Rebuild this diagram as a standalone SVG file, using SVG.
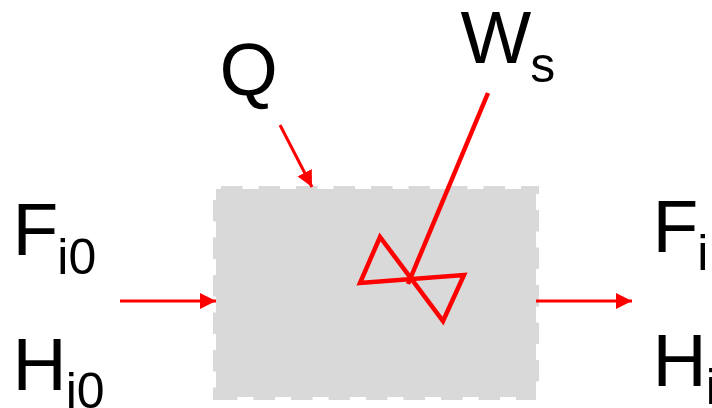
<svg xmlns="http://www.w3.org/2000/svg" width="712" height="408" viewBox="0 0 712 408">
<style>
.lab{font-family:"Liberation Sans",Arial,sans-serif;font-size:75px;fill:#000}
.sub{font-size:50px}
.c{stroke:#f00;stroke-width:3;fill:none}
.v{stroke:#f00;stroke-width:4.5;fill:none}
.d{stroke:#d9d9d9;stroke-width:6;fill:none;stroke-dasharray:21.5 16}
</style>
<defs>
<marker id="a" markerUnits="userSpaceOnUse" markerWidth="16" markerHeight="16" refX="16" refY="8" orient="auto"><path d="M0 0L16 8L0 16Z" fill="#f00"/></marker>
</defs>
<rect width="712" height="408" fill="#fff"/>
<g id="tank">
<rect x="216" y="189" width="320" height="208" fill="#d9d9d9"/>
<path class="d" d="M216 189H539" stroke-dashoffset="32.5"/>
<path class="d" d="M536 189V397" stroke-dashoffset="16.5"/>
<path class="d" d="M216 397H536"/>
<path class="d" d="M216 189V400" stroke-dashoffset="26.5"/>
</g>
<g id="connectors">
<path class="c" d="M120 301H216" marker-end="url(#a)"/>
<path class="c" d="M536 301H632" marker-end="url(#a)"/>
<path class="c" d="M280 125L312 187" marker-end="url(#a)"/>
<path class="v" d="M488 93L408 284"/>
</g>
<g id="valve"><path class="v" d="M360 283L380 237L443 321L464 275Z"/></g>
<g id="label-q"><text class="lab" x="219.5" y="95">Q</text></g>
<g id="label-ws"><text class="lab" x="460.5" y="63">W<tspan class="sub" dx="-1" dy="19">s</tspan></text></g>
<g id="label-fi0"><text class="lab" x="12.5" y="255">F<tspan class="sub" dx="-1" dy="19">i0</tspan></text></g>
<g id="label-hi0"><text class="lab" x="12.5" y="390">H<tspan class="sub" dx="-1" dy="18">i0</tspan></text></g>
<g id="label-fi"><text class="lab" x="652.5" y="252">F<tspan class="sub" dx="-1" dy="18">i</tspan></text></g>
<g id="label-hi"><text class="lab" x="652.5" y="386">H<tspan class="sub" dx="-1" dy="18">i</tspan></text></g>
</svg>
